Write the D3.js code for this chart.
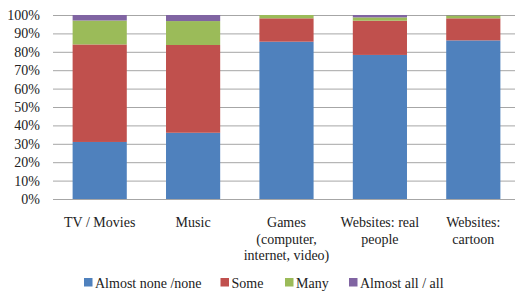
<!DOCTYPE html>
<html>
<head>
<meta charset="utf-8">
<script src="https://cdn.jsdelivr.net/npm/d3@7"></script>
<style>
  body { margin: 0; background: #fff; }
  svg text { font-family: "Times New Roman", "Liberation Serif", Tinos, "DejaVu Serif", serif; fill: #222; }
</style>
</head>
<body>
<svg id="chart" width="515" height="292"></svg>
<script>
// categories and label lines
const categories = ["TV / Movies", "Music", "Games", "Websites: real", "Websites:"];
const categoryLines = [
  ["TV / Movies"],
  ["Music"],
  ["Games", "(computer,", "internet, video)"],
  ["Websites: real", "people"],
  ["Websites:", "cartoon"]
];
const seriesNames = ["Almost none /none", "Some", "Many", "Almost all / all"];
const almostNone = [31, 36, 85.5, 78.3, 86.2];
const some = [53, 47.7, 12.7, 18.6, 12];
const many = [13, 13, 1.8, 1.8, 1.6];
const almostAll = [3, 3.3, 0, 1.3, 0.2];
const yTicks = [0, 10, 20, 30, 40, 50, 60, 70, 80, 90, 100];

const colors = ["#4F81BD", "#C0504D", "#9BBB59", "#8064A2"];

const svg = d3.select("#chart");
const margin = { left: 53, right: -5, top: 15, bottom: 93 };
const width = 515 - margin.left - margin.right;
const height = 292 - margin.top - margin.bottom;

const g = svg.append("g")
  .attr("transform", "translate(" + margin.left + "," + margin.top + ")");

const x = d3.scaleBand().domain(categories).range([0, width]).paddingInner(0.42).paddingOuter(0.21);
const y = d3.scaleLinear().domain([0, 100]).range([height, 0]);

// gridlines
g.append("g")
  .selectAll("line")
  .data(yTicks)
  .enter().append("line")
  .attr("x1", 0)
  .attr("x2", width)
  .attr("y1", d => y(d) + 0.5)
  .attr("y2", d => y(d) + 0.5)
  .style("stroke", "#a6a6a6")
  .style("stroke-width", 1);

// y axis labels
const yAxis = d3.axisLeft(y).tickValues(yTicks).tickFormat(d => d + "%").tickSize(0).tickPadding(13);
g.append("g").call(yAxis)
  .attr("font-family", null)
  .call(a => a.select(".domain").remove())
  .selectAll("text")
  .style("font-size", "14px");

// stacked data
const rows = categories.map((c, i) => ({
  cat: c,
  s0: almostNone[i], s1: some[i], s2: many[i], s3: almostAll[i]
}));
const stack = d3.stack().keys(["s0", "s1", "s2", "s3"]);
const layers = stack(rows);

g.append("g")
  .selectAll("g")
  .data(layers)
  .enter().append("g")
  .style("fill", (d, i) => colors[i])
  .selectAll("rect")
  .data(d => d)
  .enter().append("rect")
  .attr("x", d => x(d.data.cat))
  .attr("width", x.bandwidth())
  .attr("y", d => y(d[1]))
  .attr("height", d => y(d[0]) - y(d[1]));

// category labels
const labels = g.append("g")
  .selectAll("text")
  .data(categories)
  .enter().append("text")
  .attr("x", d => x(d) + x.bandwidth() / 2)
  .attr("y", height + 28)
  .attr("text-anchor", "middle")
  .style("font-size", "14px");
labels.each(function (d, i) {
  d3.select(this).selectAll("tspan")
    .data(categoryLines[i])
    .enter().append("tspan")
    .attr("x", x(d) + x.bandwidth() / 2)
    .attr("dy", (t, j) => j === 0 ? 0 : 16.7)
    .text(t => t);
});

// legend
const legendX = [84, 220.5, 285, 349];
const legend = svg.append("g")
  .selectAll("g")
  .data(seriesNames)
  .enter().append("g")
  .attr("transform", (d, i) => "translate(" + legendX[i] + ",283)");
legend.append("rect")
  .attr("x", 0)
  .attr("y", -5)
  .attr("width", 8.5)
  .attr("height", 8.5)
  .style("fill", (d, i) => colors[i]);
legend.append("text")
  .attr("x", 11)
  .attr("y", 5)
  .style("font-size", "14px")
  .text(d => d);
</script>
</body>
</html>
